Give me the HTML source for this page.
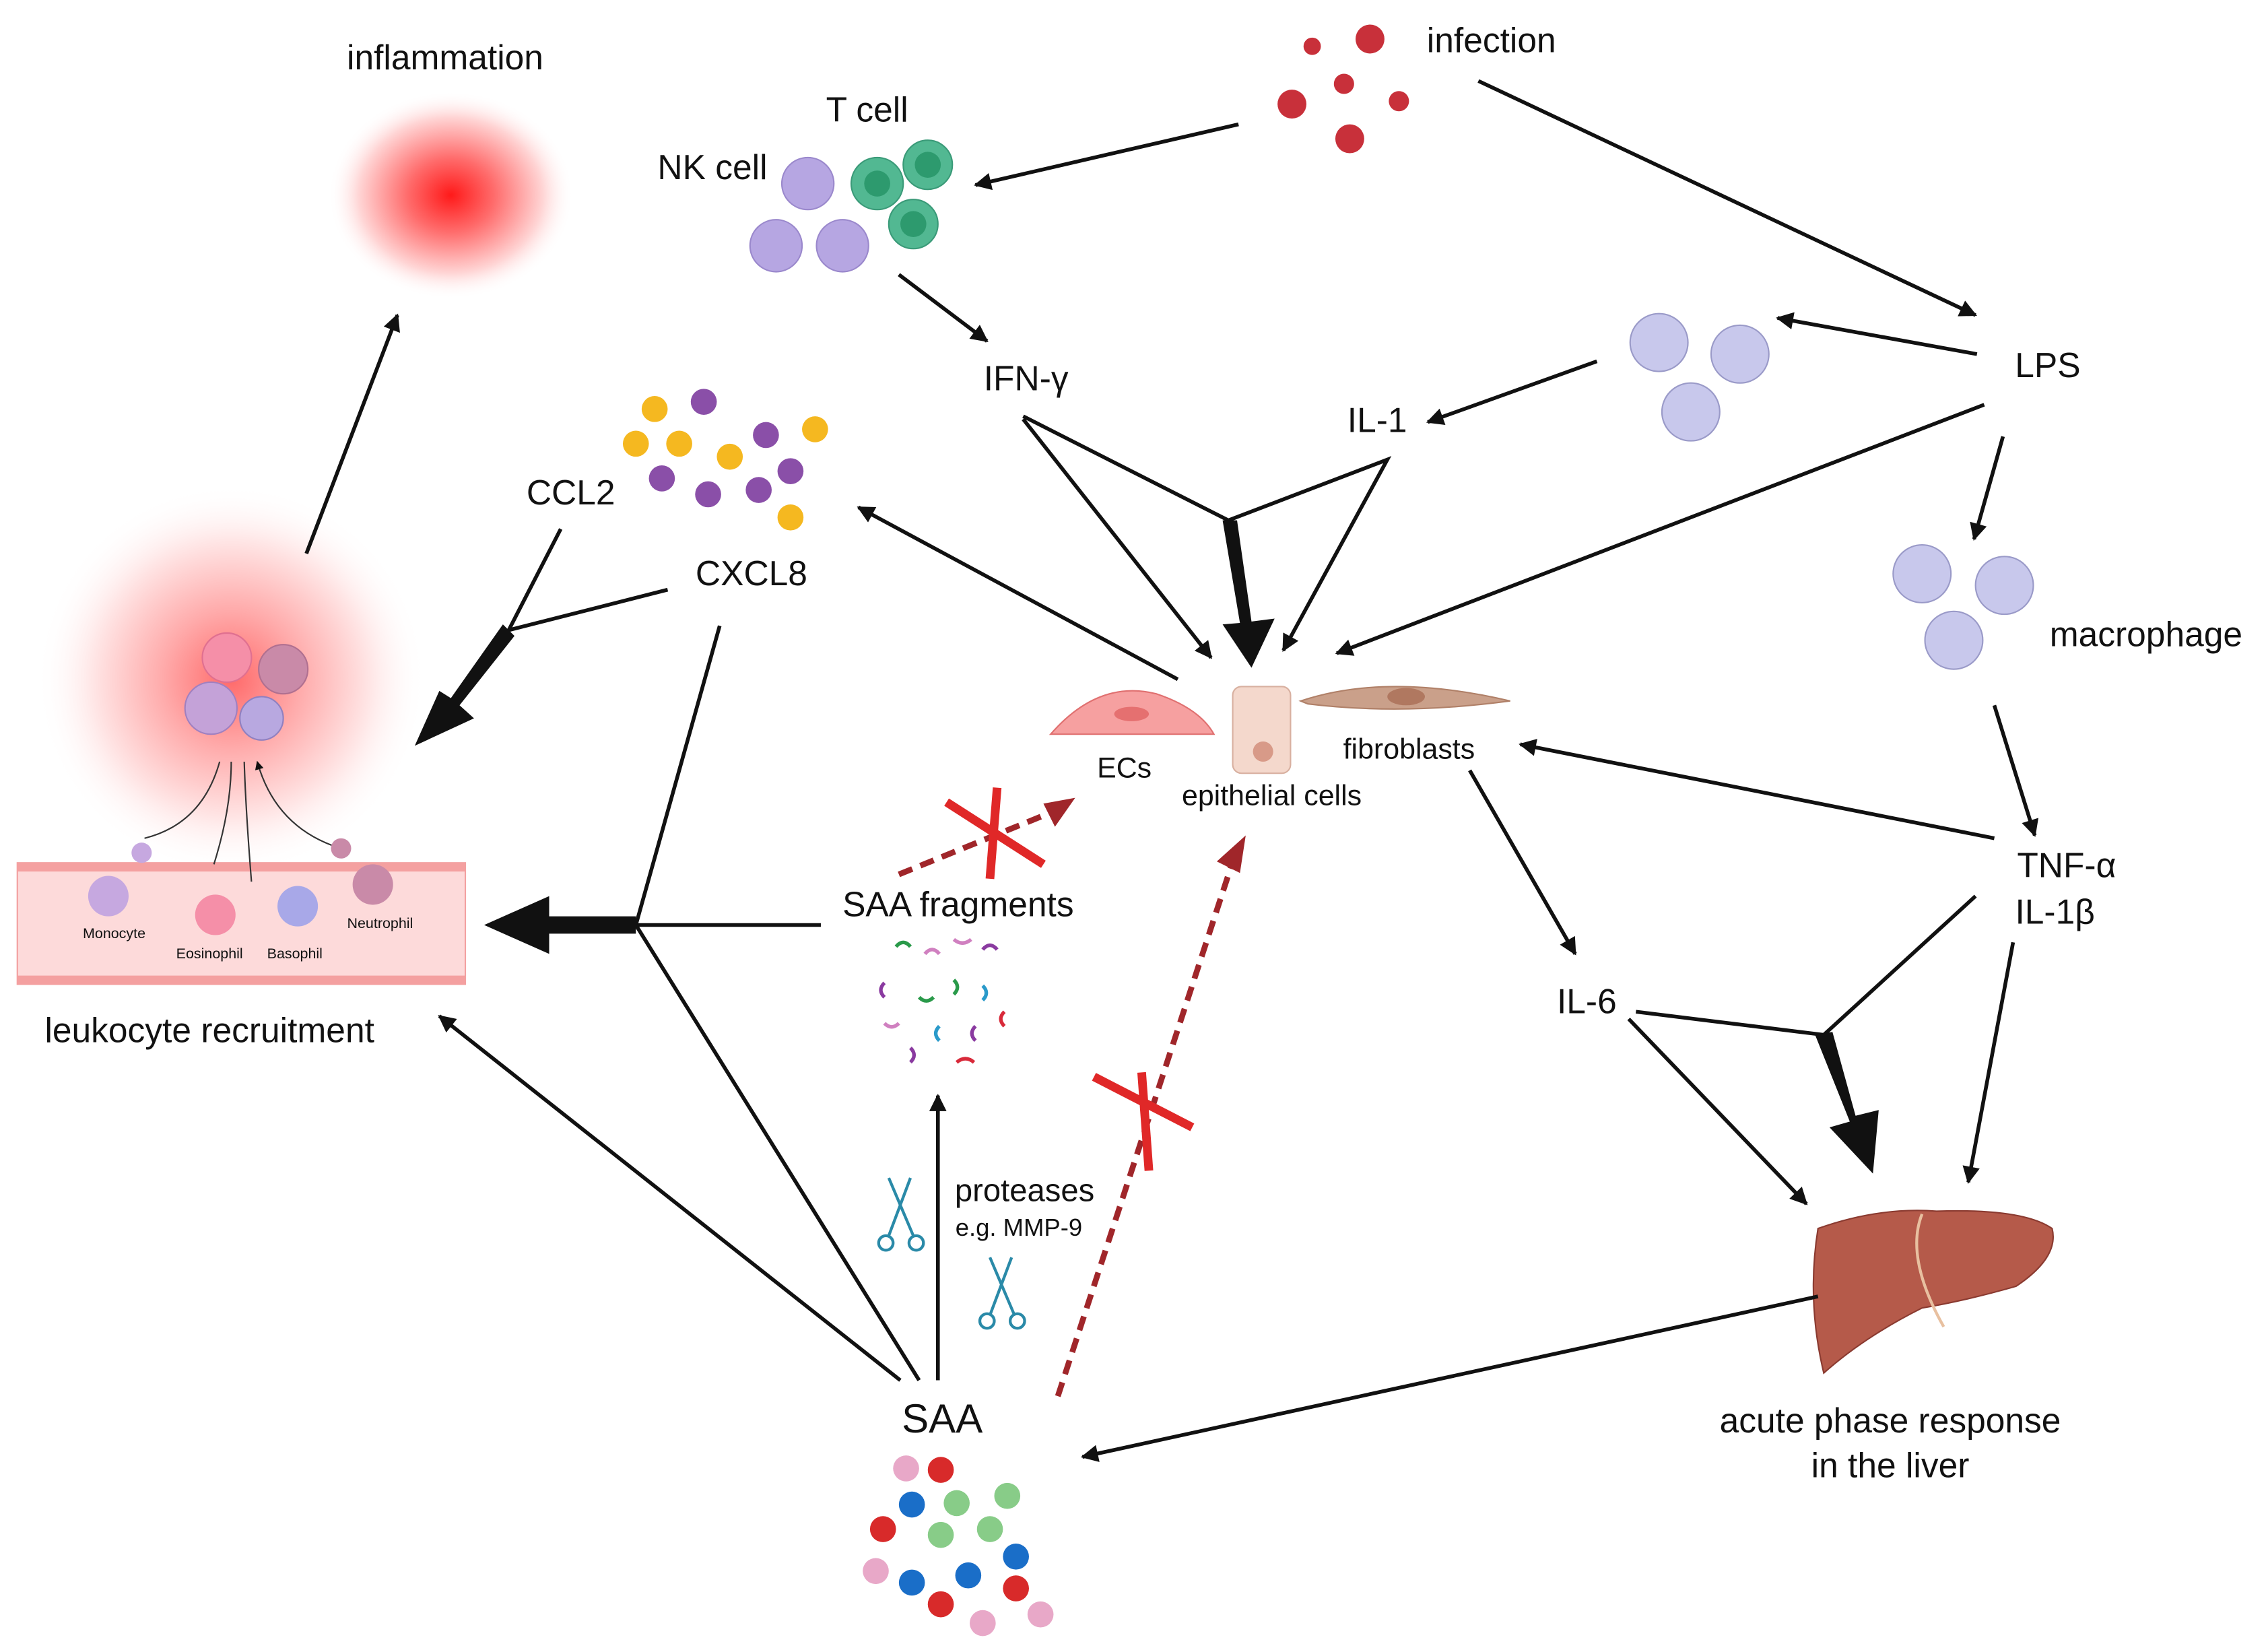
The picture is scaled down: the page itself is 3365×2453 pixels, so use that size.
<!DOCTYPE html>
<html><head><meta charset="utf-8"><style>
html,body{margin:0;padding:0;background:#fff;}
svg{display:block;}
text{font-family:"Liberation Sans",sans-serif;fill:#111;}
</style></head><body>
<svg width="3365" height="2453" viewBox="0 0 1568 1143" xmlns="http://www.w3.org/2000/svg">
<defs>
<radialGradient id="rg"><stop offset="0" stop-color="#ff1a1a"/><stop offset="0.35" stop-color="#ff6b6b"/><stop offset="0.75" stop-color="#ffd5d5"/><stop offset="1" stop-color="#fff" stop-opacity="0"/></radialGradient>
<radialGradient id="rg2"><stop offset="0" stop-color="#ff6a6a"/><stop offset="0.35" stop-color="#ffaaaa"/><stop offset="0.75" stop-color="#ffecec"/><stop offset="1" stop-color="#fff" stop-opacity="0"/></radialGradient>
<marker id="a" viewBox="0 0 10 10" refX="9" refY="5" markerWidth="13" markerHeight="12" markerUnits="userSpaceOnUse" orient="auto"><path d="M0,0 L10,5 L0,10 z" fill="#111"/></marker>
<marker id="s" viewBox="0 0 10 10" refX="9" refY="5" markerWidth="6" markerHeight="6" markerUnits="userSpaceOnUse" orient="auto"><path d="M0,0 L10,5 L0,10 z" fill="#111"/></marker>
</defs>
<!-- inflammation -->
<ellipse cx="312" cy="135" rx="85" ry="72" fill="url(#rg)"/>
<text x="308" y="48" font-size="24" text-anchor="middle">inflammation</text>
<!-- leukocyte blob -->
<ellipse cx="160" cy="470" rx="135" ry="135" fill="url(#rg2)"/>
<circle cx="157" cy="455" r="17" fill="#f58fa8" stroke="#e07090"/>
<circle cx="196" cy="463" r="17" fill="#c98aa8" stroke="#b07090"/>
<circle cx="146" cy="490" r="18" fill="#c4a2d8" stroke="#a080c0"/>
<circle cx="181" cy="497" r="15" fill="#b8a8e0" stroke="#9080c0"/>
<!-- vessel -->
<rect x="12" y="597" width="310" height="84" fill="#fddada" stroke="#f3a0a0"/>
<rect x="12" y="597" width="310" height="6" fill="#f4a0a0"/>
<rect x="12" y="675" width="310" height="6" fill="#f4a0a0"/>
<path d="M100,580 Q140,570 152,527 M148,598 Q160,560 160,527 M174,610 Q170,560 169,527 M230,585 Q190,570 178,527" fill="none" stroke="#333" stroke-width="1" marker-end="url(#s)"/>
<circle cx="75" cy="620" r="14" fill="#c6a8e0"/><circle cx="98" cy="590" r="7" fill="#c6a8e0"/>
<circle cx="149" cy="633" r="14" fill="#f58fa8"/>
<circle cx="206" cy="627" r="14" fill="#a8a8e8"/>
<circle cx="258" cy="612" r="14" fill="#c98aa8"/><circle cx="236" cy="587" r="7" fill="#c98aa8"/>
<text x="79" y="649" font-size="10" text-anchor="middle">Monocyte</text>
<text x="145" y="663" font-size="10" text-anchor="middle">Eosinophil</text>
<text x="204" y="663" font-size="10" text-anchor="middle">Basophil</text>
<text x="263" y="642" font-size="10" text-anchor="middle">Neutrophil</text>
<text x="145" y="721" font-size="24" text-anchor="middle">leukocyte recruitment</text>
<!-- infection viruses -->
<g fill="#c8303a">
<circle cx="908" cy="32" r="6"/><circle cx="948" cy="27" r="10"/><circle cx="894" cy="72" r="10"/><circle cx="930" cy="58" r="7"/><circle cx="968" cy="70" r="7"/><circle cx="934" cy="96" r="10"/>
</g>
<text x="1032" y="36" font-size="24" text-anchor="middle">infection</text>
<!-- T / NK cells -->
<text x="600" y="84" font-size="24" text-anchor="middle">T cell</text>
<text x="493" y="124" font-size="24" text-anchor="middle">NK cell</text>
<g stroke="#9a88cc" fill="#b6a6e2"><circle cx="559" cy="127" r="18"/><circle cx="537" cy="170" r="18"/><circle cx="583" cy="170" r="18"/></g>
<g stroke="#3a9a78" fill="#52b892"><circle cx="607" cy="127" r="18"/><circle cx="642" cy="114" r="17"/><circle cx="632" cy="155" r="17"/></g>
<g fill="#2d9a6e"><circle cx="607" cy="127" r="9"/><circle cx="642" cy="114" r="9"/><circle cx="632" cy="155" r="9"/></g>
<!-- macrophages -->
<g fill="#c8c8ec" stroke="#9a9ac8"><circle cx="1148" cy="237" r="20"/><circle cx="1204" cy="245" r="20"/><circle cx="1170" cy="285" r="20"/>
<circle cx="1330" cy="397" r="20"/><circle cx="1387" cy="405" r="20"/><circle cx="1352" cy="443" r="20"/></g>
<text x="1417" y="261" font-size="24" text-anchor="middle">LPS</text>
<text x="953" y="299" font-size="24" text-anchor="middle">IL-1</text>
<text x="710" y="270" font-size="24" text-anchor="middle">IFN-γ</text>
<text x="1485" y="447" font-size="24" text-anchor="middle">macrophage</text>
<text x="1430" y="607" font-size="24" text-anchor="middle">TNF-α</text>
<text x="1422" y="639" font-size="24" text-anchor="middle">IL-1β</text>
<text x="1098" y="701" font-size="24" text-anchor="middle">IL-6</text>
<!-- chemokines -->
<g fill="#f5b820"><circle cx="453" cy="283" r="9"/><circle cx="440" cy="307" r="9"/><circle cx="470" cy="307" r="9"/><circle cx="505" cy="316" r="9"/><circle cx="564" cy="297" r="9"/><circle cx="547" cy="358" r="9"/></g>
<g fill="#8a4fa8"><circle cx="487" cy="278" r="9"/><circle cx="530" cy="301" r="9"/><circle cx="458" cy="331" r="9"/><circle cx="490" cy="342" r="9"/><circle cx="525" cy="339" r="9"/><circle cx="547" cy="326" r="9"/></g>
<text x="395" y="349" font-size="24" text-anchor="middle">CCL2</text>
<text x="520" y="405" font-size="24" text-anchor="middle">CXCL8</text>
<!-- cells -->
<path d="M727,508 Q760,470 800,480 Q830,490 840,508 Z" fill="#f6a0a0" stroke="#e07070"/>
<ellipse cx="783" cy="494" rx="12" ry="5" fill="#e57070"/>
<rect x="853" y="475" width="40" height="60" rx="6" fill="#f4d8cc" stroke="#d8b0a0"/>
<circle cx="874" cy="520" r="7" fill="#d89a88"/>
<path d="M900,485 Q960,465 1045,485 Q970,495 905,487 Z" fill="#caa08a" stroke="#b08068"/>
<ellipse cx="973" cy="482" rx="13" ry="6" fill="#b07860"/>
<text x="778" y="538" font-size="20" text-anchor="middle">ECs</text>
<text x="880" y="557" font-size="20" text-anchor="middle">epithelial cells</text>
<text x="975" y="525" font-size="20" text-anchor="middle">fibroblasts</text>
<!-- SAA fragments -->
<text x="663" y="634" font-size="24" text-anchor="middle">SAA fragments</text>
<g fill="none" stroke-width="2.5">
<path d="M620,655 q5,-6 10,0" stroke="#2a9a4a"/><path d="M640,660 q5,-6 10,0" stroke="#d080c0"/><path d="M660,650 q6,5 12,0" stroke="#d080c0"/><path d="M680,657 q5,-6 10,0" stroke="#8a3aa0"/>
<path d="M612,680 q-5,5 0,10" stroke="#8a3aa0"/><path d="M636,690 q5,5 10,0" stroke="#2a9a4a"/><path d="M660,678 q5,5 0,10" stroke="#2a9a4a"/><path d="M680,682 q5,5 0,10" stroke="#2a9aca"/>
<path d="M612,708 q5,5 10,0" stroke="#d080c0"/><path d="M650,710 q-5,5 0,10" stroke="#2a9aca"/><path d="M675,710 q-5,5 0,10" stroke="#8a3aa0"/><path d="M695,700 q-5,5 0,10" stroke="#d82a3a"/>
<path d="M630,725 q5,5 0,10" stroke="#8a3aa0"/><path d="M662,735 q6,-5 12,0" stroke="#d82a3a"/>
</g>
<text x="709" y="831" font-size="22" text-anchor="middle">proteases</text>
<text x="705" y="855" font-size="17" text-anchor="middle">e.g. MMP-9</text>
<g fill="none" stroke="#2a8aa8" stroke-width="2"><path d="M615,815 L632,855 M630,815 L615,855"/><circle cx="613" cy="860" r="5"/><circle cx="634" cy="860" r="5"/>
<path d="M685,870 L702,910 M700,870 L685,910"/><circle cx="683" cy="914" r="5"/><circle cx="704" cy="914" r="5"/></g>
<!-- SAA -->
<text x="652" y="991" font-size="28" text-anchor="middle">SAA</text>
<g><circle cx="627" cy="1016" r="9" fill="#e8a8c8"/><circle cx="651" cy="1017" r="9" fill="#d82a2a"/><circle cx="697" cy="1035" r="9" fill="#88cc88"/><circle cx="631" cy="1041" r="9" fill="#1a6ec8"/><circle cx="662" cy="1040" r="9" fill="#88cc88"/><circle cx="611" cy="1058" r="9" fill="#d82a2a"/><circle cx="651" cy="1062" r="9" fill="#88cc88"/><circle cx="685" cy="1058" r="9" fill="#88cc88"/><circle cx="703" cy="1077" r="9" fill="#1a6ec8"/><circle cx="606" cy="1087" r="9" fill="#e8a8c8"/><circle cx="631" cy="1095" r="9" fill="#1a6ec8"/><circle cx="670" cy="1090" r="9" fill="#1a6ec8"/><circle cx="703" cy="1099" r="9" fill="#d82a2a"/><circle cx="651" cy="1110" r="9" fill="#d82a2a"/><circle cx="720" cy="1117" r="9" fill="#e8a8c8"/><circle cx="680" cy="1123" r="9" fill="#e8a8c8"/></g>
<!-- liver -->
<path d="M1258,850 Q1300,835 1340,838 Q1400,836 1420,850 Q1425,870 1395,890 Q1360,900 1330,905 Q1290,925 1262,950 Q1250,900 1258,850 Z" fill="#b55a4a" stroke="#8a3a30"/>
<path d="M1330,840 Q1318,870 1345,918" fill="none" stroke="#e8c0a0" stroke-width="2"/>
<text x="1308" y="991" font-size="24" text-anchor="middle">acute phase response</text>
<text x="1308" y="1022" font-size="24" text-anchor="middle">in the liver</text>
<!-- arrows -->
<g stroke="#111" stroke-width="2.6" fill="none">
<line x1="857" y1="86" x2="675" y2="128" marker-end="url(#a)"/>
<line x1="1023" y1="56" x2="1367" y2="218" marker-end="url(#a)"/>
<line x1="1368" y1="245" x2="1230" y2="220" marker-end="url(#a)"/>
<line x1="1105" y1="250" x2="988" y2="292" marker-end="url(#a)"/>
<line x1="622" y1="190" x2="683" y2="236" marker-end="url(#a)"/>
<line x1="1373" y1="280" x2="925" y2="452" marker-end="url(#a)"/>
<line x1="1386" y1="302" x2="1366" y2="373" marker-end="url(#a)"/>
<line x1="1380" y1="488" x2="1408" y2="578" marker-end="url(#a)"/>
<line x1="1380" y1="580" x2="1052" y2="515" marker-end="url(#a)"/>
<line x1="708" y1="290" x2="838" y2="455" marker-end="url(#a)"/>
<polyline points="708,288 850,360 960,318 888,450" marker-end="url(#a)"/>
<line x1="815" y1="470" x2="594" y2="351" marker-end="url(#a)"/>
<polyline points="388,366 352,436 462,408"/>
<line x1="212" y1="383" x2="275" y2="218" marker-end="url(#a)"/>
<polyline points="498,433 440,640 568,640"/>
<line x1="636" y1="955" x2="440" y2="640"/>
<line x1="623" y1="955" x2="304" y2="703" marker-end="url(#a)"/>
<line x1="649" y1="955" x2="649" y2="758" marker-end="url(#a)"/>
<line x1="1017" y1="533" x2="1090" y2="660" marker-end="url(#a)"/>
<polyline points="1132,700 1262,716 1367,620"/>
<line x1="1127" y1="705" x2="1250" y2="833" marker-end="url(#a)"/>
<line x1="1393" y1="652" x2="1362" y2="818" marker-end="url(#a)"/>
<line x1="1258" y1="897" x2="749" y2="1008" marker-end="url(#a)"/>
</g>
<!-- thick arrows -->
<g fill="#111">
<path d="M846,360 L856,360 L866,430 L882,428 L866,462 L846,432 L858,431 Z"/>
<path d="M348,432 L356,440 L318,488 L328,497 L287,516 L304,478 L312,483 Z"/>
<path d="M440,634 L440,646 L380,646 L380,660 L335,640 L380,620 L380,634 Z"/>
<path d="M1256,716 L1268,714 L1284,772 L1300,768 L1296,812 L1266,780 L1280,776 Z"/>
</g>
<!-- red dashed -->
<g stroke="#a0262a" stroke-width="4" stroke-dasharray="10,6" fill="none">
<line x1="622" y1="605" x2="735" y2="559"/>
<line x1="732" y1="966" x2="855" y2="590"/>
</g>
<path d="M744,552 L722,556 L730,572 Z" fill="#a0262a"/>
<path d="M862,578 L842,596 L858,604 Z" fill="#a0262a"/>
<g stroke="#e02828" stroke-width="6">
<line x1="655" y1="555" x2="722" y2="598"/><line x1="690" y1="545" x2="685" y2="608"/>
<line x1="757" y1="745" x2="825" y2="780"/><line x1="790" y1="742" x2="795" y2="810"/>
</g>
</svg>
</body></html>
